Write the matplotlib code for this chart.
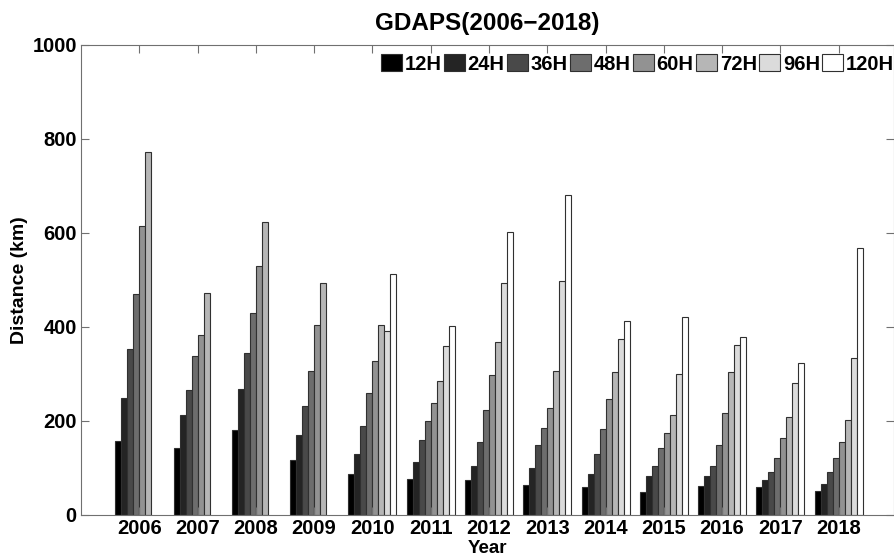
import numpy as np
import matplotlib
matplotlib.use("Agg")
import matplotlib.pyplot as plt

plt.rcParams['font.family'] = ['Liberation Sans', 'DejaVu Sans']

years = [2006, 2007, 2008, 2009, 2010, 2011, 2012, 2013, 2014, 2015, 2016, 2017, 2018]
series_names = ['12H', '24H', '36H', '48H', '60H', '72H', '96H', '120H']
nan = np.nan
h12  = [157, 143, 181, 118, 88, 76, 75, 64, 60, 50, 62, 60, 52]
h24  = [248, 212, 268, 170, 130, 113, 105, 101, 88, 82, 82, 75, 67]
h36  = [354, 267, 344, 232, 190, 159, 155, 149, 130, 105, 105, 91, 91]
h48  = [471, 339, 429, 307, 259, 201, 224, 186, 184, 143, 150, 122, 122]
h60  = [614, 382, 529, 405, 327, 239, 298, 227, 247, 174, 216, 164, 156]
h72  = [773, 473, 623, 493, 405, 286, 369, 307, 305, 212, 305, 209, 203]
h96  = [nan, nan, nan, nan, 392, 359, 493, 498, 375, 301, 362, 281, 333]
h120 = [nan, nan, nan, nan, 512, 402, 603, 680, 413, 421, 379, 324, 569]
series = [h12, h24, h36, h48, h60, h72, h96, h120]
colors = ['#000000', '#242424', '#494949', '#6d6d6d', '#929292', '#b6b6b6', '#dbdbdb', '#ffffff']

fig = plt.figure(figsize=(8.95, 5.56), dpi=100)
ax = fig.add_axes([81/895, 41/556, 813/895, 470/556])

n = len(series)
w = 0.103
x = np.array(years, dtype=float)
for i, (vals, c, name) in enumerate(zip(series, colors, series_names)):
    ax.bar(x + (i - (n - 1) / 2) * w, vals, width=w, color=c,
           edgecolor='#303030', linewidth=0.8, label=name)

ax.set_xlim(2005, 2018.95)
ax.set_ylim(0, 1000)
ax.set_xticks(years)
ax.set_yticks([0, 200, 400, 600, 800, 1000])
ax.tick_params(direction='in', top=True, right=True, length=5.5, width=0.8,
               color='#707070', labelsize=14.5, pad=3)
for lab in ax.get_xticklabels() + ax.get_yticklabels():
    lab.set_fontweight('bold')
for s in ax.spines.values():
    s.set_color('#707070')
    s.set_linewidth(0.8)

ax.set_title('GDAPS(2006\u22122018)', fontsize=17.5, fontweight='bold', pad=11)
ax.set_xlabel('Year', fontsize=13.5, fontweight='bold', labelpad=1)
ax.set_ylabel('Distance (km)', fontsize=14, fontweight='bold', labelpad=3)

leg = ax.legend(ncol=8, loc='upper right', bbox_to_anchor=(1.0, 1 - 9/470),
                frameon=False, borderpad=0, borderaxespad=0,
                handlelength=1.05, handleheight=0.95, handletextpad=0.12,
                columnspacing=0.12, prop={'weight': 'bold', 'size': 14.5})

fig.savefig('out.png', dpi=100)
